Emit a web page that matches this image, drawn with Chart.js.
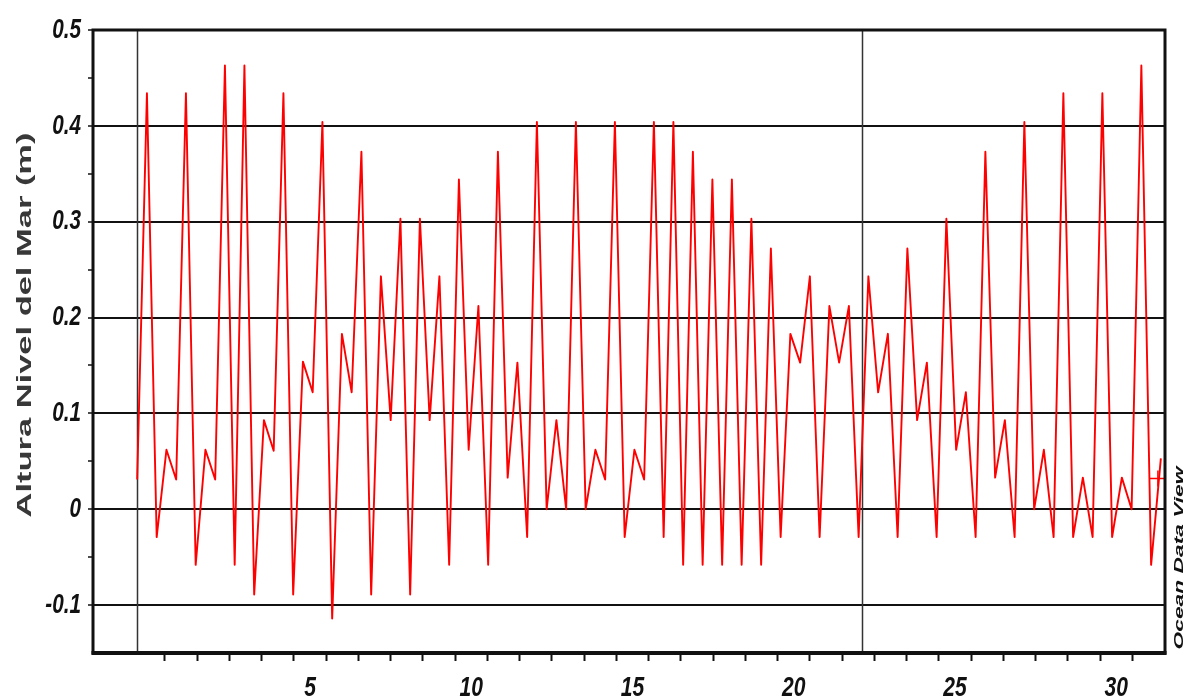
<!DOCTYPE html>
<html>
<head>
<meta charset="utf-8">
<script src="https://cdn.jsdelivr.net/npm/chart.js@4.4.1/dist/chart.umd.min.js"></script>
<style>
  html, body { margin: 0; padding: 0; background: #fff; }
  #wrap { width: 1186px; height: 696px; }
</style>
</head>
<body>
<div id="wrap"><canvas id="chart" width="1186" height="696"></canvas></div>
<script>
// ============================================================
//  Altura del nivel del mar - serie mensual (estilo Ocean Data View)
// ============================================================

// Etiquetas del eje X (dias del mes)
const DAY_LABELS = [5, 10, 15, 20, 25, 30];
// Marcas de dia (limites entre dias)
const DAY_BOUNDS = [0.5, 1.5, 2.5, 3.5, 4.5, 5.5, 6.5, 7.5, 8.5, 9.5, 10.5, 11.5, 12.5, 13.5, 14.5, 15.5,
                    16.5, 17.5, 18.5, 19.5, 20.5, 21.5, 22.5, 23.5, 24.5, 25.5, 26.5, 27.5, 28.5, 29.5, 30.5];
const Y_LABELS = [-0.1, 0, 0.1, 0.2, 0.3, 0.4, 0.5];
const Y_MINOR  = [-0.05, 0.05, 0.15, 0.25, 0.35, 0.45];

// Muestreo regular: primer dato y paso (en dias)
const FIRST_DAY = -0.36;
const STEP_DAYS = 0.3023;

// Altura nivel del mar (m)
const SEA_LEVEL = [
  0.031, 0.434, -0.029, 0.062, 0.031, 0.434, -0.058, 0.062, 0.031, 0.463,
  -0.058, 0.463, -0.089, 0.093, 0.061, 0.434, -0.089, 0.154, 0.122, 0.404,
  -0.114, 0.183, 0.122, 0.373, -0.089, 0.243, 0.093, 0.303, -0.089, 0.303,
  0.093, 0.243, -0.058, 0.344, 0.062, 0.212, -0.058, 0.373, 0.033, 0.153,
  -0.029, 0.404, 0.0, 0.093, 0.0, 0.404, 0.0, 0.062, 0.031, 0.404,
  -0.029, 0.062, 0.031, 0.404, -0.029, 0.404, -0.058, 0.373, -0.058, 0.344,
  -0.058, 0.344, -0.058, 0.303, -0.058, 0.272, -0.029, 0.183, 0.153, 0.243,
  -0.029, 0.212, 0.153, 0.212, -0.029, 0.243, 0.122, 0.183, -0.029, 0.272,
  0.093, 0.153, -0.029, 0.303, 0.062, 0.122, -0.029, 0.373, 0.033, 0.093,
  -0.029, 0.404, 0.0, 0.062, -0.029, 0.434, -0.029, 0.033, -0.029, 0.434,
  -0.029, 0.033, 0.0, 0.463, -0.058, 0.053
];

// Lineas verticales de seccion y cursor final de ODV
const SECTION_DAYS = [-0.36, 22.11];
const CURSOR = { day: 31.29, level: 0.032 };

const Y_LABEL_FONT = "italic bold 28px 'Liberation Sans', Arial, sans-serif";
const X_LABEL_FONT = "italic bold 27px 'Liberation Sans', Arial, sans-serif";

const points = SEA_LEVEL.map((v, i) => ({ x: FIRST_DAY + i * STEP_DAYS, y: v }));

const isLabelDay = v => DAY_LABELS.includes(v);
const isMajorY = v => Y_LABELS.some(t => Math.abs(t - v) < 1e-6);

// texto comprimido en horizontal (fuente "narrow" de ODV)
function narrowText(ctx, txt, x, y, sx) {
  ctx.save();
  ctx.translate(x, y);
  ctx.scale(sx, 1);
  ctx.fillText(txt, 0, 0);
  ctx.restore();
}

const odvDecor = {
  id: "odvDecor",
  beforeDatasetsDraw(chart) {
    const { ctx, chartArea: a, scales: { x } } = chart;
    ctx.save();
    ctx.strokeStyle = "#333";
    ctx.lineWidth = 1.5;
    for (const d of SECTION_DAYS) {
      const px = Math.round(x.getPixelForValue(d)) + 0.5;
      ctx.beginPath();
      ctx.moveTo(px, a.top);
      ctx.lineTo(px, a.bottom);
      ctx.stroke();
    }
    ctx.restore();
  },
  afterDraw(chart) {
    const { ctx, chartArea: a, scales: { x, y } } = chart;
    ctx.save();
    // marco
    ctx.strokeStyle = "#111";
    ctx.lineWidth = 3;
    ctx.strokeRect(a.left, a.top, a.right - a.left, a.bottom - a.top);
    ctx.lineWidth = 4;
    ctx.beginPath();
    ctx.moveTo(a.left - 1.5, a.bottom);
    ctx.lineTo(a.right + 1.5, a.bottom);
    ctx.stroke();

    // etiquetas de los ejes
    ctx.fillStyle = "#111";
    ctx.font = Y_LABEL_FONT;
    ctx.textAlign = "right";
    ctx.textBaseline = "middle";
    for (const t of y.ticks) {
      if (!isMajorY(t.value)) continue;
      narrowText(ctx, t.label, 81, y.getPixelForValue(t.value), 0.74);
    }
    ctx.font = X_LABEL_FONT;
    ctx.textAlign = "center";
    ctx.textBaseline = "alphabetic";
    for (const t of x.ticks) {
      if (!isLabelDay(t.value)) continue;
      narrowText(ctx, t.label, x.getPixelForValue(t.value), 696, 0.78);
    }

    // titulo eje Y (texto estirado como en el original)
    ctx.fillStyle = "#383838";
    ctx.font = "bold 20px 'Liberation Sans', Arial, sans-serif";
    const title = "Altura Nivel del Mar (m)";
    let w = ctx.measureText(title).width;
    ctx.save();
    ctx.translate(31, 325);
    ctx.rotate(-Math.PI / 2);
    ctx.scale(385 / w, 1);
    ctx.fillText(title, 0, 0);
    ctx.restore();

    // marca de agua ODV
    ctx.fillStyle = "#111";
    ctx.font = "bold italic 13px 'Liberation Sans', Arial, sans-serif";
    const odv = "Ocean Data View";
    w = ctx.measureText(odv).width;
    ctx.save();
    ctx.translate(1183, 558);
    ctx.rotate(-Math.PI / 2);
    ctx.scale(183 / w, 1);
    ctx.fillText(odv, 0, 0);
    ctx.restore();
    ctx.restore();
  }
};

new Chart(document.getElementById("chart").getContext("2d"), {
  type: "line",
  data: {
    datasets: [
      {
        label: "Altura Nivel del Mar",
        data: points,
        borderColor: "#ff0000",
        borderWidth: 1.9,
        pointRadius: 0,
        tension: 0,
        borderJoinStyle: "round",
      },
      {
        label: "cursor",
        data: [{ x: CURSOR.day, y: CURSOR.level }],
        showLine: false,
        pointStyle: "cross",
        pointRadius: 8,
        borderColor: "#ff0000",
        borderWidth: 1.5,
      },
    ],
  },
  options: {
    responsive: false,
    animation: false,
    devicePixelRatio: 1,
    layout: { padding: { top: 30, right: 21, left: 0, bottom: 0 } },
    plugins: { legend: { display: false }, tooltip: { enabled: false } },
    scales: {
      x: {
        type: "linear",
        min: -1.73,
        max: 31.51,
        afterFit: s => { s.height = 43; },
        afterBuildTicks: s => {
          s.ticks = [...DAY_BOUNDS, ...DAY_LABELS].sort((a, b) => a - b).map(v => ({ value: v }));
        },
        border: { display: false },
        grid: {
          drawOnChartArea: false,
          drawTicks: true,
          tickLength: 8,
          tickWidth: 2,
          tickColor: c => (c.tick && isLabelDay(c.tick.value) ? "rgba(0,0,0,0)" : "#111"),
        },
        ticks: {
          autoSkip: false,
          maxRotation: 0,
          color: "rgba(0,0,0,0)",
          font: { size: 26, weight: "bold", style: "italic" },
          callback: v => (isLabelDay(v) ? String(v) : ""),
        },
      },
      y: {
        type: "linear",
        min: -0.15,
        max: 0.5,
        afterFit: s => { s.width = 93; },
        afterBuildTicks: s => {
          s.ticks = [...Y_LABELS, ...Y_MINOR].sort((a, b) => a - b).map(v => ({ value: v }));
        },
        border: { display: false },
        grid: {
          drawOnChartArea: true,
          tickLength: 5,
          tickWidth: 1.5,
          tickColor: "#111",
          lineWidth: 2,
          color: c => (c.tick && isMajorY(c.tick.value) ? "#111" : "rgba(0,0,0,0)"),
        },
        ticks: {
          color: "rgba(0,0,0,0)",
          font: { size: 25, weight: "bold", style: "italic" },
          callback: v => {
            if (!isMajorY(v)) return "";
            return Math.abs(v) < 1e-9 ? "0" : v.toFixed(1);
          },
        },
      },
    },
  },
  plugins: [odvDecor],
});
</script>
</body>
</html>
